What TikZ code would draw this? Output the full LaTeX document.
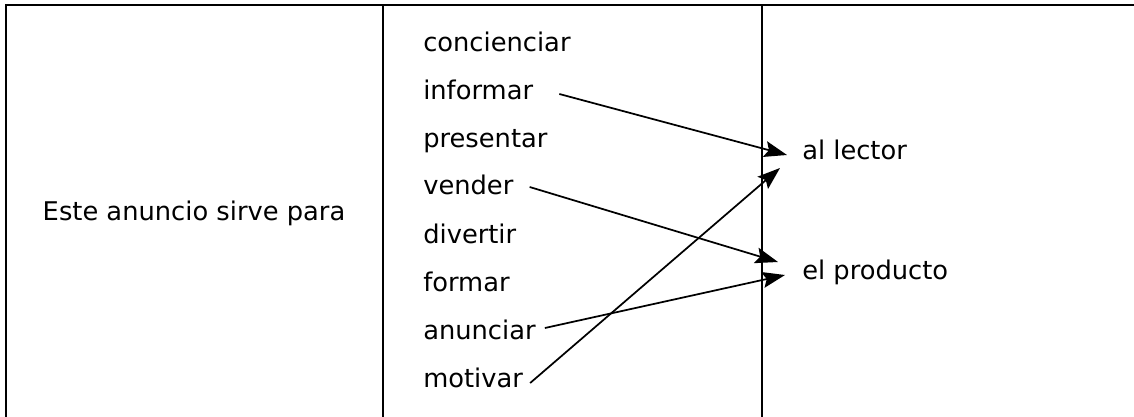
\documentclass[tikz,border=0pt]{standalone}
\usepackage{fontspec}
\setmainfont{DejaVu Sans}
\usetikzlibrary{arrows.meta}

\tikzset{
  word/.style={inner sep=0pt, anchor=base west, font=\fontsize{19.3pt}{23pt}\selectfont},
  link/.style={black, line width=1.3pt, -{Stealth[length=17pt, width=12pt, inset=3pt]}},
  rule/.style={black, line width=1.9pt}
}

\begin{document}
\begin{tikzpicture}[x=0.75pt, y=-0.75pt]
                \useasboundingbox (0, 0) rectangle (1134, 417);
                % table lines
                \draw [black, line width=1.3pt] (6, 417) -- (6, 5) -- (1134, 5);
                \draw [rule] (383, 5) -- (383, 417);
                \draw [rule] (762, 5) -- (762, 417);
                % left column
                \node [word, anchor=base] (intro) at (194, 220) {Este anuncio sirve para};
                % middle column
                \foreach \name/\txt/\yy in {concienciar/concienciar/52, informar/informar/100,
                        presentar/presentar/147, vender/vender/195, divertir/divertir/243,
                        formar/formar/291, anunciar/anunciar/339, motivar/motivar/387}
                    \node [word] (\name) at (423, \yy) {\txt};
                % right column
                \node [word] (lector) at (802, 160) {al lector};
                \node [word] (producto) at (802, 279) {el producto};
                % arrows
                \draw [link] ([shift={(26, -6)}]informar.base east) -- ([shift={(-15, -5)}]lector.base west);
                \draw [link] ([shift={(16, -8)}]vender.base east) -- ([shift={(-24, -17)}]producto.base west);
                \draw [link] ([shift={(9, -11)}]anunciar.base east) -- ([shift={(-17, -4)}]producto.base west);
                \draw [link] ([shift={(7, -4)}]motivar.base east) -- ([shift={(-22, 8)}]lector.base west);
            \end{tikzpicture}
\end{document}
